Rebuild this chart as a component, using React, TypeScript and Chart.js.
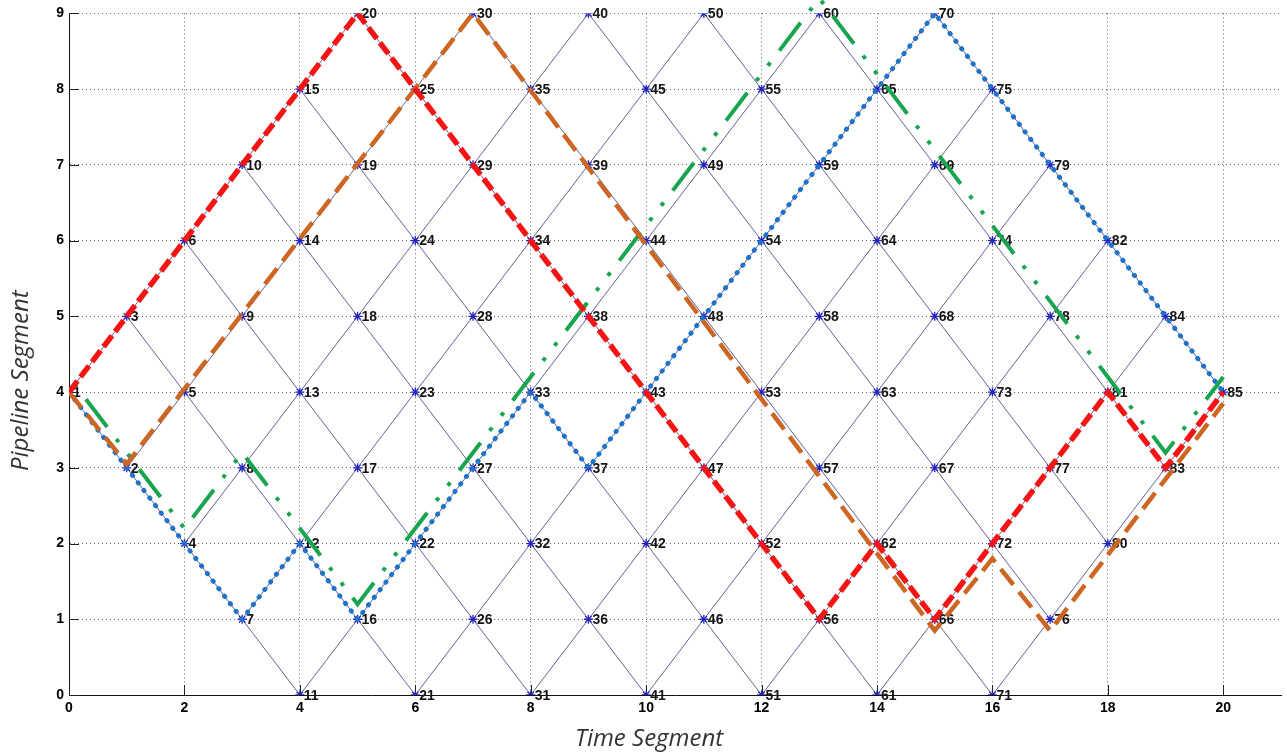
import React, { useEffect, useRef } from 'react';
import { Chart, registerables } from 'chart.js';

Chart.register(...registerables);

// ---- Data ----
const xAxisTitle = 'Time Segment';
const yAxisTitle = 'Pipeline Segment';

// lattice nodes (numbered 1..85 in order)
const nodeTime = [
  0, 1, 1, 2, 2, 2, 3, 3, 3, 3,
  4, 4, 4, 4, 4, 5, 5, 5, 5, 5,
  6, 6, 6, 6, 6, 7, 7, 7, 7, 7,
  8, 8, 8, 8, 8, 9, 9, 9, 9, 9,
  10, 10, 10, 10, 10, 11, 11, 11, 11, 11,
  12, 12, 12, 12, 12, 13, 13, 13, 13, 13,
  14, 14, 14, 14, 14, 15, 15, 15, 15, 15,
  16, 16, 16, 16, 16, 17, 17, 17, 17,
  18, 18, 18, 19, 19, 20,
];
const nodeSegment = [
  4, 3, 5, 2, 4, 6, 1, 3, 5, 7,
  0, 2, 4, 6, 8, 1, 3, 5, 7, 9,
  0, 2, 4, 6, 8, 1, 3, 5, 7, 9,
  0, 2, 4, 6, 8, 1, 3, 5, 7, 9,
  0, 2, 4, 6, 8, 1, 3, 5, 7, 9,
  0, 2, 4, 6, 8, 1, 3, 5, 7, 9,
  0, 2, 4, 6, 8, 1, 3, 5, 7, 9,
  0, 2, 4, 6, 8, 1, 3, 5, 7,
  2, 4, 6, 3, 5, 4,
];
const nodeLabels = nodeTime.map((_, i) => String(i + 1));

// paths
const redTime = [0, 5, 13, 14, 15, 18, 19, 20];
const redSegment = [4, 9, 1, 2, 1, 4, 3, 4];

const orangeTime = [0, 1, 7, 15, 16, 17, 20];
const orangeSegment = [4, 3.05, 9, 0.85, 1.8, 0.85, 3.85];

const greenTime = [0, 2, 3, 5, 13, 18, 19, 20];
const greenSegment = [4.2, 2.2, 3.2, 1.2, 9.2, 4.2, 3.2, 4.2];

const blueTime = [0, 3, 4, 5, 8, 9, 15, 20];
const blueSegment = [4, 1, 2, 1, 4, 3, 9, 4];

function toPoints(xs: number[], ys: number[]) {
  return xs.map((x, i) => ({ x, y: ys[i] }));
}

function buildLattice() {
  const key = (t: number, s: number) => `${t},${s}`;
  const present = new Set(nodeTime.map((t, i) => key(t, nodeSegment[i])));
  const pts: { x: number; y: number | null }[] = [];
  nodeTime.forEach((t, i) => {
    const s = nodeSegment[i];
    [1, -1].forEach((d) => {
      if (present.has(key(t + 1, s + d))) {
        pts.push({ x: t, y: s }, { x: t + 1, y: s + d }, { x: t + 1, y: null });
      }
    });
  });
  return pts;
}

const nodeLabelPlugin = {
  id: 'nodeLabels',
  afterDatasetDraw(chart: any, args: any) {
    const ds = chart.data.datasets[args.index];
    if (ds.label !== 'nodes') return;
    const { ctx } = chart;
    ctx.save();
    ctx.font = 'bold 14px "Liberation Sans", Arial, sans-serif';
    ctx.fillStyle = '#151515';
    ctx.textAlign = 'left';
    ctx.textBaseline = 'middle';
    args.meta.data.forEach((el: any, i: number) => {
      ctx.fillText(nodeLabels[i], el.x + 4, el.y + 1);
    });
    ctx.restore();
  },
};

const inwardTicks = {
  id: 'inwardTicks',
  beforeDatasetsDraw(chart: any) {
    const { ctx, chartArea, scales } = chart;
    ctx.save();
    ctx.strokeStyle = '#222';
    ctx.lineWidth = 1;
    scales.x.ticks.forEach((t: any) => {
      const px = Math.round(scales.x.getPixelForValue(t.value)) + 0.5;
      ctx.beginPath();
      ctx.moveTo(px, chartArea.bottom);
      ctx.lineTo(px, chartArea.bottom - 10);
      ctx.stroke();
    });
    scales.y.ticks.forEach((t: any) => {
      const py = Math.round(scales.y.getPixelForValue(t.value)) + 0.5;
      ctx.beginPath();
      ctx.moveTo(chartArea.left, py);
      ctx.lineTo(chartArea.left + 10, py);
      ctx.stroke();
    });
    ctx.restore();
  },
};

const axisTitles = {
  id: 'axisTitles',
  afterDraw(chart: any) {
    const { ctx, scales } = chart;
    ctx.save();
    ctx.font = 'italic 24px "Open Sans", sans-serif';
    ctx.fillStyle = '#333';
    ctx.textAlign = 'center';
    ctx.textBaseline = 'middle';
    ctx.fillText(xAxisTitle, scales.x.getPixelForValue(10.05), 739);
    ctx.translate(21, scales.y.getPixelForValue(4.15));
    ctx.rotate(-Math.PI / 2);
    ctx.fillText(yAxisTitle, 0, 0);
    ctx.restore();
  },
};

export default function App() {
  const canvasRef = useRef<HTMLCanvasElement | null>(null);

  useEffect(() => {
    if (!canvasRef.current) return;
    const tickFont = { family: '"Liberation Sans", Arial, sans-serif', size: 14, weight: 'bold' as const };
    const chart = new Chart(canvasRef.current, {
      type: 'line',
      data: {
        datasets: [
          {
            label: 'red',
            data: toPoints(redTime, redSegment),
            borderColor: 'rgb(245,20,20)',
            borderWidth: 5.5,
            borderDash: [14, 5],
            pointRadius: 0,
            fill: false,
            tension: 0,
            order: 1,
          },
          {
            label: 'orange',
            data: toPoints(orangeTime, orangeSegment),
            borderColor: 'rgb(204,102,34)',
            borderWidth: 4.5,
            borderDash: [20, 9],
            pointRadius: 0,
            fill: false,
            tension: 0,
            order: 2,
          },
          {
            label: 'green',
            data: toPoints(greenTime, greenSegment),
            borderColor: 'rgb(25,165,80)',
            borderWidth: 4,
            borderDash: [35, 15, 4, 15, 4, 15],
            borderDashOffset: 60,
            pointRadius: 0,
            fill: false,
            tension: 0,
            clip: false as any,
            order: 3,
          },
          {
            label: 'blue',
            data: toPoints(blueTime, blueSegment),
            borderColor: 'rgb(30,115,200)',
            borderWidth: 4.8,
            borderDash: [0.5, 9],
            borderCapStyle: 'round',
            pointRadius: 0,
            fill: false,
            tension: 0,
            order: 4,
          },
          {
            label: 'nodes',
            data: toPoints(nodeTime, nodeSegment),
            showLine: false,
            pointStyle: 'star',
            pointRadius: 4.5,
            pointBorderColor: 'rgb(35,35,190)',
            pointBackgroundColor: 'rgb(35,35,190)',
            pointBorderWidth: 1.3,
            order: 5,
          },
          {
            label: 'lattice',
            data: buildLattice() as any,
            borderColor: 'rgba(80,80,140,0.9)',
            borderWidth: 1,
            pointRadius: 0,
            spanGaps: false,
            fill: false,
            tension: 0,
            order: 6,
          },
        ],
      },
      options: {
        responsive: false,
        animation: false,
        events: [],
        layout: { padding: { left: 0, right: 6, top: 12, bottom: 0 } },
        plugins: {
          legend: { display: false },
          tooltip: { enabled: false },
        },
        scales: {
          x: {
            type: 'linear',
            min: 0,
            max: 21,
            afterFit: (s: any) => {
              s.height = 59;
            },
            ticks: {
              stepSize: 2,
              includeBounds: false,
              font: tickFont,
              color: '#000',
              padding: 5,
              maxRotation: 0,
            },
            grid: { color: 'rgba(70,70,70,0.85)', lineWidth: 1, drawTicks: false },
            border: { display: true, color: '#111', width: 1, dash: [1, 3] },
            title: { display: false },
          },
          y: {
            type: 'linear',
            min: 0,
            max: 9,
            afterFit: (s: any) => {
              s.width = 69;
            },
            ticks: {
              stepSize: 1,
              font: tickFont,
              color: '#000',
              padding: 5,
            },
            grid: { color: 'rgba(70,70,70,0.85)', lineWidth: 1, drawTicks: false },
            border: { display: true, color: '#111', width: 1, dash: [1, 3] },
            title: { display: false },
          },
        },
      } as any,
      plugins: [inwardTicks, nodeLabelPlugin, axisTitles],
    });
    return () => chart.destroy();
  }, []);

  return (
    <div style={{ position: 'absolute', left: 0, top: 0, width: 1287, height: 754, background: '#fff' }}>
      <canvas ref={canvasRef} width={1287} height={754} style={{ display: 'block' }} />
    </div>
  );
}
